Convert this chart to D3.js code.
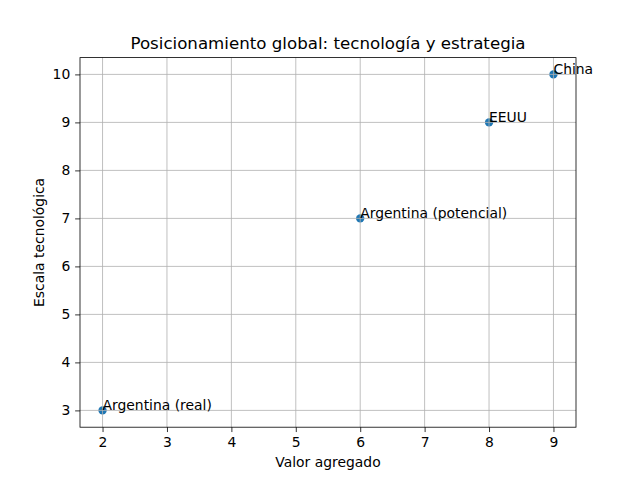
<!DOCTYPE html>
<html><head><meta charset="utf-8">
<script src="https://cdn.jsdelivr.net/npm/d3@7"></script>
<style>body{margin:0;background:#fff}svg{display:block;font-family:"DejaVu Sans",sans-serif}</style>
</head><body>
<script>
const labels = ["Argentina (real)", "Argentina (potencial)", "EEUU", "China"];
const valorAgregado = [2, 6, 8, 9];
const escalaTecnologica = [3, 7, 9, 10];
const xTicks = [2, 3, 4, 5, 6, 7, 8, 9];
const yTicks = [3, 4, 5, 6, 7, 8, 9, 10];
const title = "Posicionamiento global: tecnología y estrategia";
const xLabel = "Valor agregado";
const yLabel = "Escala tecnológica";

const W = 640, H = 480;
const L = 80, R = 576, T = 57.6, B = 427.2;
const svg = d3.select("body").append("svg").attr("width", W).attr("height", H);

const x = d3.scaleLinear().domain([1.65, 9.35]).range([L, R]);
const y = d3.scaleLinear().domain([2.65, 10.35]).range([B, T]);

const data = labels.map((l, i) => ({l, x: valorAgregado[i], y: escalaTecnologica[i]}));

// points (below grid, as in matplotlib)
svg.append("g").selectAll("circle").data(data).join("circle")
  .attr("cx", d => x(d.x)).attr("cy", d => y(d.y)).attr("r", 4.17)
  .attr("fill", "#1f77b4");

// grid
const grid = svg.append("g").attr("stroke", "#b0b0b0").attr("stroke-width", 0.8);
grid.selectAll(".gx").data(xTicks).join("line")
  .attr("x1", d => x(d)).attr("x2", d => x(d)).attr("y1", T).attr("y2", B);
grid.selectAll(".gy").data(yTicks).join("line")
  .attr("y1", d => y(d)).attr("y2", d => y(d)).attr("x1", L).attr("x2", R);

// axes
const xAxis = d3.axisBottom(x).tickValues(xTicks).tickSize(4.86).tickPadding(4.86).tickFormat(d3.format("d"));
const yAxis = d3.axisLeft(y).tickValues(yTicks).tickSize(4.86).tickPadding(4.86).tickFormat(d3.format("d"));
const gx = svg.append("g").attr("transform", `translate(0,${B})`).call(xAxis);
const gy = svg.append("g").attr("transform", `translate(${L},0)`).call(yAxis);
[gx, gy].forEach(g => {
  g.select(".domain").remove();
  g.selectAll(".tick line").attr("stroke", "#000").attr("stroke-width", 0.8);
  g.selectAll(".tick text").attr("fill", "#000").style("font-size", "13.9px").style("font-family", "DejaVu Sans");
});

// spines
svg.append("rect").attr("x", L).attr("y", T).attr("width", R - L).attr("height", B - T)
  .attr("fill", "none").attr("stroke", "#000").attr("stroke-width", 0.8);

// annotations
svg.append("g").selectAll("text").data(data).join("text")
  .attr("x", d => x(d.x)).attr("y", d => y(d.y))
  .style("font-size", "13.9px").attr("fill", "#000").text(d => d.l);

// title & labels
svg.append("text").attr("x", (L + R) / 2).attr("y", 49.3).attr("text-anchor", "middle")
  .style("font-size", "16.67px").text(title);
svg.append("text").attr("x", (L + R) / 2).attr("y", 467).attr("text-anchor", "middle")
  .style("font-size", "13.9px").text(xLabel);
svg.append("text").attr("transform", `translate(44,${(T + B) / 2}) rotate(-90)`).attr("text-anchor", "middle")
  .style("font-size", "13.9px").text(yLabel);
</script>
</body></html>
